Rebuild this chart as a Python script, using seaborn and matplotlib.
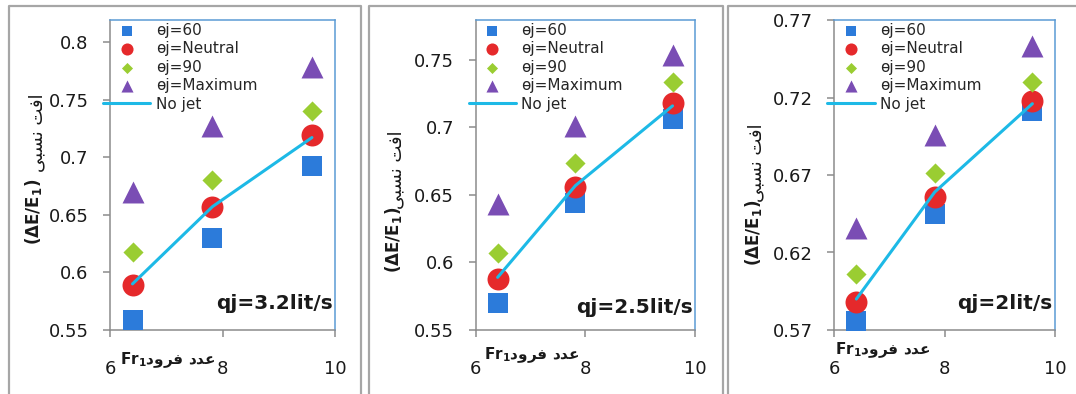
import matplotlib
matplotlib.use("Agg")
import matplotlib.pyplot as plt
import seaborn as sns
from matplotlib.lines import Line2D

sns.set_theme(style="white")
plt.rcParams["font.family"] = ["DejaVu Sans"]

# Froude numbers of the three tests
froude = [6.40, 7.82, 9.59]

series_labels = ["ɵj=60", "ɵj=Neutral", "ɵj=90", "ɵj=Maximum", "No jet"]
panel_titles = ["qj=3.2lit/s", "qj=2.5lit/s", "qj=2lit/s"]

# relative energy loss, qj = 3.2 lit/s
q32_theta60 = [0.559, 0.630, 0.692]
q32_neutral = [0.589, 0.657, 0.719]
q32_theta90 = [0.618, 0.680, 0.740]
q32_maximum = [0.670, 0.727, 0.778]
q32_nojet = [0.590, 0.657, 0.717]

# relative energy loss, qj = 2.5 lit/s
q25_theta60 = [0.570, 0.644, 0.706]
q25_neutral = [0.588, 0.656, 0.718]
q25_theta90 = [0.607, 0.674, 0.734]
q25_maximum = [0.643, 0.701, 0.754]
q25_nojet = [0.589, 0.657, 0.716]

# relative energy loss, qj = 2 lit/s
q20_theta60 = [0.576, 0.645, 0.711]
q20_neutral = [0.588, 0.656, 0.718]
q20_theta90 = [0.606, 0.671, 0.730]
q20_maximum = [0.636, 0.696, 0.753]
q20_nojet = [0.590, 0.659, 0.716]

# y-axis tick values per panel
yticks_q32 = [0.55, 0.60, 0.65, 0.70, 0.75, 0.80]
yticks_q25 = [0.55, 0.60, 0.65, 0.70, 0.75]
yticks_q20 = [0.57, 0.62, 0.67, 0.72, 0.77]
ytick_labels_q32 = ["0.55", "0.6", "0.65", "0.7", "0.75", "0.8"]
ytick_labels_q25 = ["0.55", "0.6", "0.65", "0.7", "0.75"]
ytick_labels_q20 = ["0.57", "0.62", "0.67", "0.72", "0.77"]
xticks = [6, 8, 10]

panels = [
    (q32_theta60, q32_neutral, q32_theta90, q32_maximum, q32_nojet,
     yticks_q32, ytick_labels_q32, (0.55, 0.819)),
    (q25_theta60, q25_neutral, q25_theta90, q25_maximum, q25_nojet,
     yticks_q25, ytick_labels_q25, (0.55, 0.7796)),
    (q20_theta60, q20_neutral, q20_theta90, q20_maximum, q20_nojet,
     yticks_q20, ytick_labels_q20, (0.57, 0.77)),
]

# Persian labels written in contextual (presentation) forms, visual order
loss_fa = "\uFBFD\uFE92\uFEB4\uFEE7 \uFE96\uFED3\uFE8D"      # افت نسبی
froude_fa = "\uFEA9\uFEED\uFEAE\uFED3 \uFEA9\uFEAA\uFECB"    # عدد فرود

W, H = 1076, 394
fig = plt.figure(figsize=(W / 100, H / 100), dpi=100)
fig.patch.set_facecolor("white")

# axes boxes in pixels: left, right, top, bottom
axes_px = [(110, 335, 20, 330), (475.7, 695, 20, 330), (834.3, 1055, 20, 330)]
# panel frames in pixels: left, right
frames_px = [(8.5, 360.5), (368.5, 722.5), (728.5, 1085)]

styles = [
    dict(marker="s", s=207, color="#2C7BDA"),
    dict(marker="o", s=250, color="#E5292B"),
    dict(marker="D", s=105, color="#9ACD32"),
    dict(marker="^", s=250, color="#7A4DB4"),
]
line_color = "#1DB9E6"

# label placement (axes fraction): ylabel bold, ylabel persian, xlabel, title
ylab_pos = [(-0.342, 0.382), (-0.377, 0.29), (-0.368, 0.313)]
yfa_pos = [(-0.322, 0.635), (-0.362, 0.516), (-0.353, 0.540)]
xlab_pos = [(0.044, -0.097), (0.036, -0.082), (0.003, -0.066)]
title_y = [0.087, 0.071, 0.087]

for i, (panel, (l, r, t, b)) in enumerate(zip(panels, axes_px)):
    t60, neu, t90, mx, nj, yt, ytl, ylim = panel
    ax = fig.add_axes([l / W, (H - b) / H, (r - l) / W, (b - t) / H])
    ax.set_facecolor("white")

    for vals, lab, st in zip([t60, neu, t90, mx], series_labels[:4], styles):
        sns.scatterplot(x=froude, y=vals, ax=ax, label=lab, linewidth=0,
                        zorder=3, **st)
    sns.lineplot(x=froude, y=nj, ax=ax, color=line_color, linewidth=2.2,
                 label=series_labels[4], sort=False, estimator=None, zorder=4)

    ax.set_xlim(6, 10)
    ax.set_ylim(*ylim)
    ax.set_xticks(xticks)
    ax.set_xticklabels([str(v) for v in xticks])
    ax.set_yticks(yt)
    ax.set_yticklabels(ytl)
    ax.tick_params(axis="both", direction="out", length=5, width=1.1,
                   color="#8C8C8C", labelsize=13, labelcolor="#1a1a1a")
    ax.tick_params(axis="y", pad=10.5, left=True)
    ax.tick_params(axis="x", pad=16.5, bottom=True)
    for side in ("left", "bottom"):
        ax.spines[side].set_color("#8C8C8C")
        ax.spines[side].set_linewidth(1.1)
    for side in ("top", "right"):
        ax.spines[side].set_color("#5B9BD5")
        ax.spines[side].set_linewidth(1.1)
    ax.set_xlabel("")
    ax.set_ylabel("")

    handles, labels = ax.get_legend_handles_labels()
    order = [labels.index(s) for s in series_labels]
    ax.legend([handles[k] for k in order], [labels[k] for k in order],
              loc="upper left", bbox_to_anchor=(-7 / (r - l), 0.99),
              frameon=False, fontsize=11, markerscale=0.55, scatterpoints=1,
              handlelength=3.1, handletextpad=0.35, labelspacing=0.22,
              borderpad=0, borderaxespad=0)

    ax.text(*ylab_pos[i], r"$\mathbf{(\Delta E/E_1)}$", transform=ax.transAxes,
            rotation=90, ha="center", va="center", fontsize=12,
            color="#1a1a1a")
    ax.text(*yfa_pos[i], loss_fa, transform=ax.transAxes, rotation=90,
            ha="center", va="center", fontsize=13, color="#1a1a1a")
    ax.text(*xlab_pos[i], r"$\mathbf{Fr_1}$" + froude_fa,
            transform=ax.transAxes, ha="left", va="center", fontsize=11,
            fontweight="bold", color="#1a1a1a")
    ax.text(0.99, title_y[i], panel_titles[i], transform=ax.transAxes,
            ha="right", va="center", fontsize=14.5, fontweight="bold",
            color="#1a1a1a")

# grey frames around each panel
frame_kw = dict(color="#A6A6A6", linewidth=1.6, transform=fig.transFigure)
top = 1 - 5.5 / H
for fl, fr in frames_px:
    fig.add_artist(Line2D([fl / W, fl / W, fr / W, fr / W], [0, top, top, 0],
                          **frame_kw))

fig.savefig("out.png", dpi=100, facecolor="white")
